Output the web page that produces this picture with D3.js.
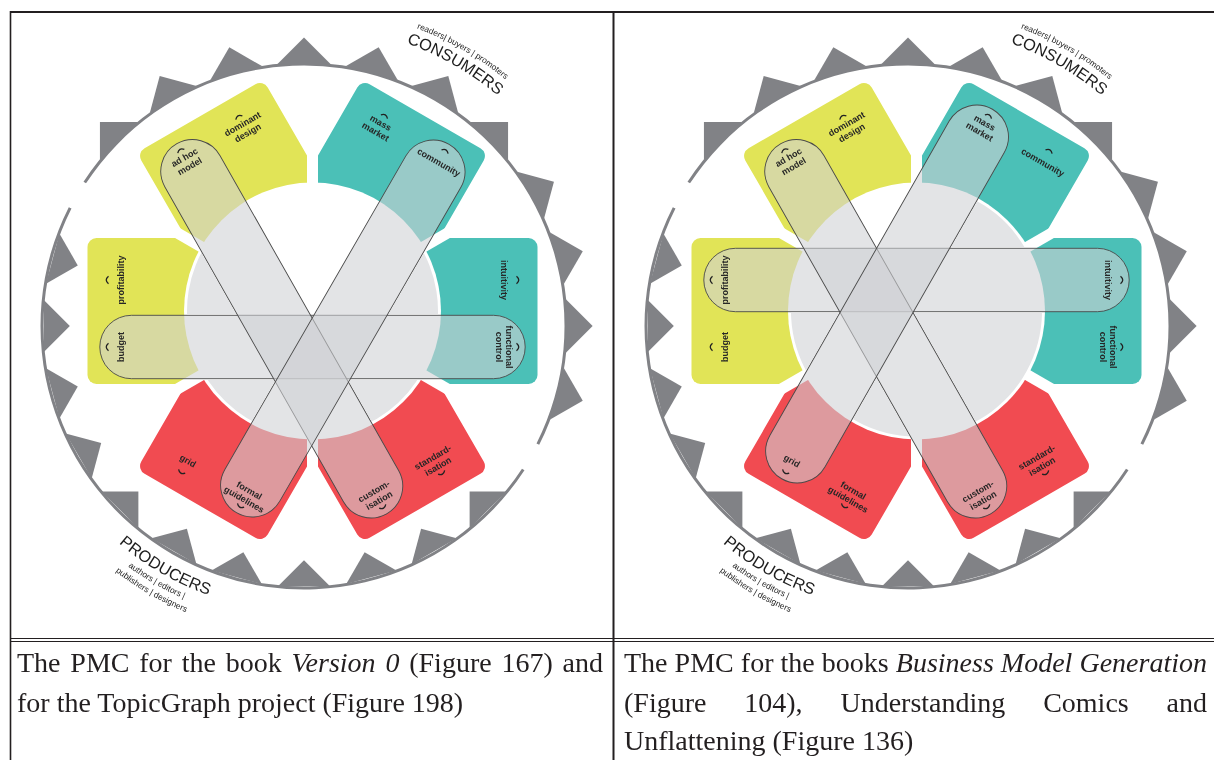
<!DOCTYPE html>
<meta charset="utf-8">
<style>
body {
    margin: 0;
    background: #fff;
}
svg {
    display: block;
}
.label {
    font-family: 'Liberation Sans', Arial, sans-serif;
    font-size: 9px;
    font-weight: bold;
    fill: #262626;
}
.side {
    font-family: 'Liberation Sans', Arial, sans-serif;
    fill: #1d1d1d;
}
.caption {
    font-family: 'Liberation Serif', 'Times New Roman', serif;
    font-size: 28px;
    fill: #231f20;
    white-space: pre;
}
.band {
    fill: #d0d1d4;
    fill-opacity: 0.59;
    stroke: #4a4a4a;
    stroke-width: 0.9px;
}
.disk {
    fill: #e3e4e6;
    mix-blend-mode: darken;
}
</style>
<svg width="1214" height="760"></svg>

<script src="https://cdnjs.cloudflare.com/ajax/libs/d3/7.8.5/d3.min.js"></script>
<script>
// ---- data ----
let panelShift = [0, 604];

let blockAngles = [0, 60, 120, 180, 240, 300];
let blockColors = ['#4bc0b7', '#4bc0b7', '#e1e457', '#e1e457', '#f14b51', '#f14b51'];
// two labels per block, t = offset across the block (clockwise positive)
let blockLabels = [
    [{name: 'intuitivity', lines: ['intuitivity'], t: -31},
     {name: 'functional control', lines: ['functional', 'control'], t: 36}],
    [{name: 'mass market', lines: ['mass', 'market'], t: -35},
     {name: 'community', lines: ['community'], t: 35}],
    [{name: 'ad hoc model', lines: ['ad hoc', 'model'], t: -34},
     {name: 'dominant design', lines: ['dominant', 'design'], t: 33}],
    [{name: 'budget', lines: ['budget'], t: -36},
     {name: 'profitability', lines: ['profitability'], t: 31}],
    [{name: 'formal guidelines', lines: ['formal', 'guidelines'], t: -35},
     {name: 'grid', lines: ['grid'], t: 33}],
    [{name: 'standard-isation', lines: ['standard-', 'isation'], t: -31},
     {name: 'custom-isation', lines: ['custom-', 'isation'], t: 37}]
];

// links drawn as bands, per panel
let panelBands = [
    [['budget', 'functional control'], ['ad hoc model', 'custom-isation'], ['community', 'formal guidelines']],
    [['profitability', 'intuitivity'], ['ad hoc model', 'custom-isation'], ['mass market', 'grid']]
];

// gear teeth, degrees
let outwardTeeth = [-15, 0, 15, 30, 45, 60, 75, 90, 105, 120, 135];
let inwardTeeth = [165, 180, 195, 210, 225, 240, 255, 270, 285, 300, 315];

let consumerLines = ['CONSUMERS', 'readers| buyers | promoters'];
let producerLines = ['PRODUCERS', 'authors | editors |', 'publishers | designers'];

let captions = [
    [[['The PMC for the book ', false], ['Version 0', true], [' (Figure 167) and', false]],
     [['for the TopicGraph project (Figure 198)', false]]],
    [[['The PMC for the books ', false], ['Business Model Generation', true]],
     [['(Figure 104), Understanding Comics and', false]],
     [['Unflattening (Figure 136)', false]]]
];

// ---- geometry ----
const center = [312.5, 311];
const gearCenter = [304, 326];
const R_LABEL = 192, R_MARK = 204, R_CUT = 128.5, R_DISK = 125.5;
const BLOCK_OUT = 225, BLOCK_HALF = 73, GAP_HALF = 5.5;
const BAND_W = 63.4, BAND_INSET = 11;
const RING_R = 262;
const rad = Math.PI / 180;

function polar(a, r, t) {
    return [r * Math.cos(a * rad) + t * Math.sin(a * rad),
            -r * Math.sin(a * rad) + t * Math.cos(a * rad)];
}

let labelIndex = {};
blockAngles.forEach((a, i) => {
    blockLabels[i].forEach(l => { labelIndex[l.name] = {a: a, t: l.t}; });
});
function labelPos(name) {
    let l = labelIndex[name];
    let p = polar(l.a, R_LABEL, l.t);
    return [center[0] + p[0], center[1] + p[1]];
}

let svg = d3.select('svg');
svg.append('rect').attr('width', 1214).attr('height', 760).attr('fill', '#fff');
let defs = svg.append('defs');

let cos30 = Math.cos(30 * rad);
defs.append('clipPath').attr('id', 'wedge')
    .append('path')
    .attr('d', `M${2 * GAP_HALF},0 L${2 * GAP_HALF + 420 * cos30},${-210} L${2 * GAP_HALF + 420 * cos30},210 Z`);

let ring = d3.arc().innerRadius(RING_R - 1.5).outerRadius(RING_R + 1.5);

function intersect(p, d, q, e) {
    let cr = d[0] * e[1] - d[1] * e[0];
    let s = ((q[0] - p[0]) * e[1] - (q[1] - p[1]) * e[0]) / cr;
    return [p[0] + s * d[0], p[1] + s * d[1]];
}

panelShift.forEach((shift, pi) => {
    let panel = svg.append('g').attr('transform', `translate(${shift},0)`);

    // gear
    let gear = panel.append('g')
        .attr('transform', `translate(${gearCenter})`)
        .attr('fill', '#818286');
    gear.append('path').attr('d', ring({startAngle: -56.8 * rad, endAngle: 116.8 * rad}));
    gear.append('path').attr('d', ring({startAngle: -236.8 * rad, endAngle: -63.2 * rad}));

    let wo = 27, bo = Math.sqrt(263 * 263 - wo * wo);
    gear.selectAll('.tout').data(outwardTeeth).enter().append('path')
        .attr('transform', d => `rotate(${-d})`)
        .attr('d', `M${bo},${-wo} L${bo + wo},0 L${bo},${wo} Z`);
    let wi = 26, bi = Math.sqrt(260.5 * 260.5 - wi * wi) + 1;
    gear.selectAll('.tin').data(inwardTeeth).enter().append('path')
        .attr('transform', d => `rotate(${-d})`)
        .attr('d', `M${bi},${-wi} L${bi - wi},0 L${bi},${wi} Z`);

    // coloured blocks
    panel.append('g').selectAll('g')
        .data(blockAngles)
        .enter().append('g')
            .attr('transform', d => `translate(${center}) rotate(${-d})`)
            .append('rect')
            .attr('x', 0).attr('y', -BLOCK_HALF)
            .attr('width', BLOCK_OUT).attr('height', 2 * BLOCK_HALF)
            .attr('rx', 9)
            .attr('fill', (d, i) => blockColors[i])
            .attr('clip-path', 'url(#wedge)');

    panel.append('circle')
        .attr('cx', center[0]).attr('cy', center[1])
        .attr('r', R_CUT).attr('fill', '#fff');

    // bands
    let bandGeo = panelBands[pi].map(([a, b]) => {
        let p1 = labelPos(a), p2 = labelPos(b);
        let len = Math.hypot(p2[0] - p1[0], p2[1] - p1[1]);
        let d = [(p2[0] - p1[0]) / len, (p2[1] - p1[1]) / len];
        let e1 = [p1[0] + BAND_INSET * d[0], p1[1] + BAND_INSET * d[1]];
        return {e1: e1, d: d, len: len - 2 * BAND_INSET};
    });
    panel.append('g').selectAll('rect')
        .data(bandGeo)
        .enter().append('rect')
            .attr('class', 'band')
            .attr('transform', b => `translate(${b.e1}) rotate(${Math.atan2(b.d[1], b.d[0]) / rad})`)
            .attr('x', -BAND_W / 2).attr('y', -BAND_W / 2)
            .attr('width', b => b.len + BAND_W).attr('height', BAND_W)
            .attr('rx', BAND_W / 2);

    // light disk, open above the crossing of the two slanted bands
    let diag = bandGeo.slice(1);
    let tops = [];
    [-1, 1].forEach(s1 => [-1, 1].forEach(s2 => {
        let n1 = [-diag[0].d[1], diag[0].d[0]], n2 = [-diag[1].d[1], diag[1].d[0]];
        let p = [diag[0].e1[0] + s1 * BAND_W / 2 * n1[0], diag[0].e1[1] + s1 * BAND_W / 2 * n1[1]];
        let q = [diag[1].e1[0] + s2 * BAND_W / 2 * n2[0], diag[1].e1[1] + s2 * BAND_W / 2 * n2[1]];
        tops.push(intersect(p, diag[0].d, q, diag[1].d));
    }));
    let T = tops.sort((u, v) => u[1] - v[1])[0];
    let ups = diag.map(b => b.d[1] < 0 ? b.d : [-b.d[0], -b.d[1]]).sort((u, v) => u[0] - v[0]);
    let hit = dir => {
        let w = [T[0] - center[0], T[1] - center[1]];
        let b = dir[0] * w[0] + dir[1] * w[1];
        let s = -b + Math.sqrt(b * b - (w[0] * w[0] + w[1] * w[1] - R_DISK * R_DISK));
        return [T[0] + s * dir[0], T[1] + s * dir[1]];
    };
    let P1 = hit(ups[0]), P2 = hit(ups[1]);
    panel.append('path')
        .attr('class', 'disk')
        .attr('d', `M${P2} A${R_DISK},${R_DISK} 0 1 1 ${P1} L${T} Z`);

    // labels and small arcs
    blockAngles.forEach((a, i) => {
        let g = panel.append('g').attr('transform', `translate(${center}) rotate(${-a})`);
        let upper = a <= 180;
        blockLabels[i].forEach(l => {
            let n = l.lines.length;
            g.append('text')
                .attr('class', 'label')
                .attr('text-anchor', 'middle')
                .attr('transform', `translate(${R_LABEL},${l.t}) rotate(${upper ? 90 : -90})`)
                .selectAll('tspan')
                .data(l.lines)
                .enter().append('tspan')
                    .attr('x', 0)
                    .attr('y', (d, k) => (k - (n - 1) / 2) * 10.3 + 3.2)
                    .text(d => d);
            g.append('path')
                .attr('d', `M${R_MARK},${l.t - 3.8} Q${R_MARK + 4.5},${l.t} ${R_MARK},${l.t + 3.8}`)
                .attr('fill', 'none')
                .attr('stroke', '#222')
                .attr('stroke-width', 1.3);
        });
    });

    // consumers / producers along the gear
    let side = panel.append('g').attr('transform', `translate(${gearCenter})`);
    let consR = [301, 318.5], consSize = [16.3, 8.4];
    consumerLines.forEach((txt, k) => {
        let r = consR[k];
        let id = `cons-${pi}-${k}`;
        defs.append('path').attr('id', id)
            .attr('d', `M0,${-r} A${r},${r} 0 0 1 ${r * cos30},${-r / 2}`);
        side.append('text').attr('class', 'side').attr('font-size', consSize[k])
            .append('textPath').attr('href', `#${id}`)
            .attr('startOffset', '50%').attr('text-anchor', 'middle')
            .text(txt);
    });
    let prodR = [285.5, 298, 309.5], prodSize = [16.3, 8.4, 8.4];
    producerLines.forEach((txt, k) => {
        let r = prodR[k];
        let id = `prod-${pi}-${k}`;
        defs.append('path').attr('id', id)
            .attr('d', `M${-r * cos30},${r / 2} A${r},${r} 0 0 0 0,${r}`);
        side.append('text').attr('class', 'side').attr('font-size', prodSize[k])
            .append('textPath').attr('href', `#${id}`)
            .attr('startOffset', '50%').attr('text-anchor', 'middle')
            .text(txt);
    });
});

// ---- table ----
let grid = svg.append('g').attr('stroke', '#231f20');
grid.append('line').attr('x1', 10).attr('x2', 1214).attr('y1', 12).attr('y2', 12).attr('stroke-width', 2);
grid.append('line').attr('x1', 10.5).attr('x2', 10.5).attr('y1', 11).attr('y2', 760).attr('stroke-width', 1.6);
grid.append('line').attr('x1', 613.5).attr('x2', 613.5).attr('y1', 11).attr('y2', 760).attr('stroke-width', 2);
[638.5, 641.5].forEach(y => {
    grid.append('line').attr('x1', 10).attr('x2', 1214).attr('y1', y).attr('y2', y).attr('stroke-width', 1);
});

let cellX = [[17, 603], [624, 1207]];
let baselines = [672, 711.5, 750];
captions.forEach((rows, ci) => {
    rows.forEach((segs, ri) => {
        let t = svg.append('text')
            .attr('class', 'caption')
            .attr('x', cellX[ci][0])
            .attr('y', baselines[ri]);
        segs.forEach(([s, it]) => {
            t.append('tspan').attr('font-style', it ? 'italic' : 'normal').text(s);
        });
        if (ri < rows.length - 1) {
            let full = segs.map(s => s[0]).join('');
            let spaces = full.split(' ').length - 1;
            let natural = t.node().getComputedTextLength();
            let extra = (cellX[ci][1] - cellX[ci][0] - natural) / spaces;
            t.attr('word-spacing', extra);
        }
    });
});
</script>
